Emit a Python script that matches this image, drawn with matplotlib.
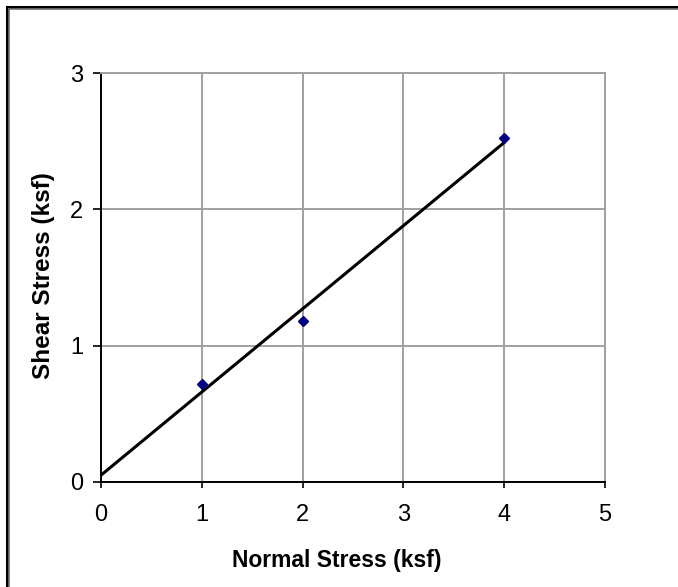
import numpy as np
import matplotlib.pyplot as plt
from matplotlib.lines import Line2D

# measured points
normal_stress = [1, 2, 4]
shear_stress = [0.72, 1.18, 2.52]

x_ticks = [0, 1, 2, 3, 4, 5]
y_ticks = [0, 1, 2, 3]

W, H = 678, 587
plt.rcParams['font.family'] = ['Liberation Sans', 'DejaVu Sans']

fig = plt.figure(figsize=(W / 100, H / 100), dpi=100)
ax = fig.add_axes([101 / W, 1 - 482 / H, (605 - 101) / W, (482 - 73) / H])

# linear trend line (least squares) drawn from 0 to the last point
slope, icpt = np.polyfit(normal_stress, shear_stress, 1)
tx = np.array([0, max(normal_stress)])
ax.plot(tx, slope * tx + icpt, color='black', lw=2.2, solid_capstyle='butt', zorder=3)
ax.plot(normal_stress, shear_stress, 'D', color='#000080', ms=5.5, zorder=4)

ax.set_xlim(0, 5)
ax.set_ylim(0, 3)
ax.set_xticks(x_ticks)
ax.set_yticks(y_ticks)
ax.grid(True, color='#a0a0a0', lw=1.4)
ax.set_axisbelow(True)
for s in ['top', 'right']:
    ax.spines[s].set_color('#a0a0a0')
    ax.spines[s].set_linewidth(1.4)
for s in ['left', 'bottom']:
    ax.spines[s].set_color('black')
    ax.spines[s].set_linewidth(1.4)
ax.tick_params(direction='out', width=1.2, color='black', labelsize=17)
ax.tick_params(axis='x', length=4, pad=12)
ax.tick_params(axis='y', length=6, pad=7)

# axis titles, x title centred on the chart area rather than the plot area
fig.text(337 / W, 1 - 561 / H, 'Normal Stress (ksf)', fontsize=16.5, fontweight='bold',
         ha='center', va='center')
fig.text(44 / W, 1 - 276 / H, 'Shear Stress (ksf)', fontsize=17.5, fontweight='bold',
         ha='center', va='center', rotation=90)

# chart area frame (black with grey inner edge)
fig.add_artist(Line2D([6.5 / W, 6.5 / W], [0, 1 - 6.5 / H], color='black', lw=2.2,
                      transform=fig.transFigure))
fig.add_artist(Line2D([6.5 / W, 1], [1 - 6.5 / H, 1 - 6.5 / H], color='black', lw=2.2,
                      transform=fig.transFigure))
fig.add_artist(Line2D([9 / W, 9 / W], [0, 1 - 9 / H], color='#707070', lw=1.2,
                      transform=fig.transFigure))
fig.add_artist(Line2D([9 / W, 1], [1 - 9 / H, 1 - 9 / H], color='#707070', lw=1.2,
                      transform=fig.transFigure))

fig.savefig('out.png', dpi=100)
